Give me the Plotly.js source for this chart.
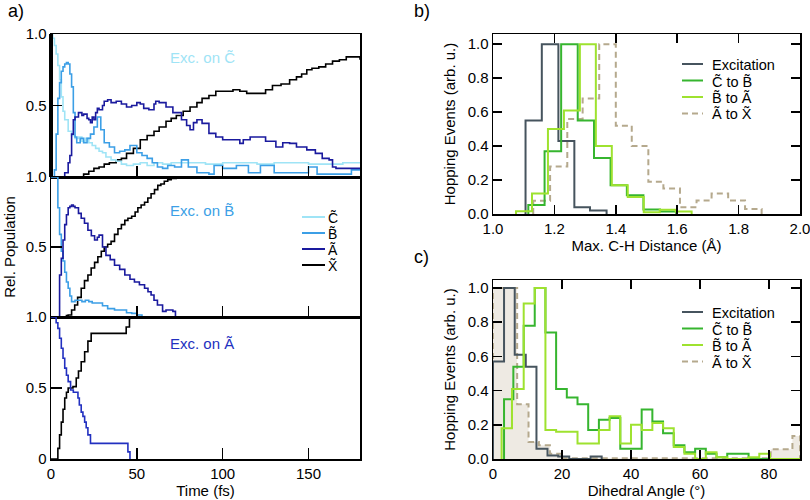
<!DOCTYPE html>
<html><head><meta charset="utf-8">
<script src="https://cdn.plot.ly/plotly-3.0.1.min.js"></script>
<style>html,body{margin:0;padding:0;background:#fff}#plot{width:810px;height:500px}</style>
</head><body><div id="plot"></div>
<script>
// ---------- Panel a: populations ----------
// Excitation on C
const tC_C = [0,1,2,3,4,5,6,7,8,10,12,14,16,18,20,22,24,26,28,30,32,35,38,41,44,48,52,56,60,65,70,80,90,100,110,120,130,140,150,160,170,180];
const popC_C = [1.0,0.97,0.92,0.86,0.78,0.68,0.56,0.46,0.40,0.32,0.29,0.27,0.28,0.25,0.27,0.24,0.22,0.20,0.18,0.17,0.14,0.12,0.11,0.09,0.08,0.09,0.10,0.08,0.10,0.09,0.10,0.10,0.09,0.10,0.10,0.09,0.10,0.10,0.09,0.09,0.10,0.10];
const tB_C = [0,1,2,3,4,5,6,7,8,9,10,11,12,13,14,15,17,19,21,23,25,27,29,31,34,37,40,43,46,50,53,56,59,62,65,68,72,76,80,85,88,92,95,100,105,108,115,120,122,130,140,150,155,160,170,175,180];
const popB_C = [0,0,0.05,0.30,0.55,0.66,0.74,0.77,0.79,0.80,0.79,0.72,0.63,0.45,0.28,0.24,0.27,0.24,0.27,0.30,0.35,0.42,0.33,0.24,0.21,0.17,0.18,0.19,0.22,0.17,0.15,0.13,0.10,0.07,0.06,0.08,0.07,0.12,0.07,0.03,0.03,0.02,0.08,0.06,0.06,0.08,0.03,0.03,0.08,0.03,0.03,0.07,0.02,0.02,0.02,0.05,0.05];
const tA_C = [0,7,8,10,11,12,13,14,16,18,19,21,22,23,24,25,26,27,28,30,31,33,35,38,41,44,47,50,52,54,57,60,61,63,67,71,76,79,81,83,85,88,92,96,100,105,110,112,116,122,125,131,135,139,143,149,154,158,162,164,166,180];
const popA_C = [0,0,0.03,0.10,0.15,0.30,0.40,0.42,0.45,0.43,0.44,0.41,0.40,0.38,0.42,0.40,0.45,0.48,0.47,0.50,0.53,0.54,0.52,0.53,0.51,0.49,0.50,0.52,0.51,0.48,0.47,0.51,0.53,0.52,0.49,0.45,0.40,0.36,0.33,0.38,0.40,0.375,0.305,0.28,0.26,0.26,0.235,0.26,0.28,0.28,0.25,0.21,0.24,0.235,0.21,0.19,0.165,0.13,0.12,0.07,0.06,0.06];
const tX_C = [0,17,19,22,25,28,31,34,38,41,44,48,52,56,60,63,67,70,73,77,81,85,88,92,96,100,106,110,114,121,125,129,134,139,143,146,149,152,156,160,164,168,172,176,180];
const popX_C = [0,0,0.02,0.04,0.06,0.07,0.09,0.10,0.12,0.13,0.165,0.20,0.26,0.29,0.32,0.35,0.39,0.41,0.43,0.46,0.49,0.52,0.55,0.57,0.60,0.60,0.61,0.60,0.585,0.585,0.61,0.64,0.65,0.68,0.70,0.72,0.75,0.76,0.77,0.79,0.81,0.82,0.84,0.84,0.82];
// Excitation on B
const tB_B = [0,3,4,5,6,7,8,9,10,11,12,14,16,18,20,22,24,27,30,33,37,41,44,47,50,52.5,53];
const popB_B = [1.0,1.0,0.78,0.59,0.47,0.40,0.32,0.25,0.205,0.15,0.11,0.12,0.12,0.11,0.12,0.11,0.10,0.10,0.08,0.06,0.05,0.05,0.03,0.026,0.014,0.014,0];
const tA_B = [0,4,5,6,7,8,9,10,11,12,13,14,16,17.6,19.5,21.5,23.5,25.4,27,28,30,32,34.5,37,40,43,46,48.6,51.5,54.5,56.5,58.3,60,62,65,67,71,72.5];
const popA_B = [0,0,0.30,0.42,0.55,0.66,0.73,0.78,0.79,0.80,0.79,0.78,0.74,0.705,0.67,0.62,0.58,0.55,0.57,0.585,0.50,0.44,0.41,0.37,0.34,0.30,0.27,0.25,0.23,0.205,0.18,0.157,0.12,0.086,0.04,0.05,0.04,0];
const tX_B = [0,7,9,10,12,13.8,15.5,17.6,19.5,21.5,23.4,25.4,27.3,29.3,31,33,35,37,39,41,43,44.8,47,49,50.6,52.5,54.5,56.4,58.3,60.3,62.2,64,66,68,70,73,180];
const popX_B = [0,0,0.01,0.014,0.05,0.086,0.14,0.205,0.26,0.30,0.35,0.39,0.43,0.47,0.50,0.52,0.54,0.59,0.63,0.66,0.69,0.705,0.72,0.75,0.78,0.80,0.82,0.85,0.88,0.91,0.94,0.95,0.97,0.98,0.99,1.0,1.0];
// Excitation on A
const tA_A = [0,2,3,4,5,6,7,8,9,10,11.4,13,15.7,16.5,17.6,18.6,19.6,20.5,21.5,23,42.8,44.8,46];
const popA_A = [1.0,1.0,0.96,0.92,0.85,0.78,0.71,0.64,0.59,0.545,0.486,0.47,0.43,0.38,0.33,0.30,0.26,0.22,0.17,0.11,0.11,0.05,0];
const tX_A = [0,3,4,5,6,7,8,9,10,12.8,14.7,16,17.6,19.6,21.5,23.4,42.8,43.8,45.7,46,180];
const popX_A = [0,0,0.075,0.17,0.26,0.35,0.43,0.47,0.50,0.51,0.57,0.62,0.685,0.755,0.83,0.885,0.885,0.93,0.99,1.0,1.0];

// ---------- Panel b: max C-H distance histograms ----------
const bExcEdges = [1.106,1.159,1.213,1.265,1.316,1.37];
const bExcH = [0.55,1.0,0.43,0.04,0.02];
const bCBEdges = [1.115,1.168,1.222,1.276,1.329,1.383,1.436,1.49,1.544,1.597];
const bCBH = [0.053,0.37,1.0,0.55,0.33,0.17,0.11,0.027,0.015];
const bBAEdges = [1.075,1.127,1.179,1.231,1.283,1.335,1.387,1.439,1.491,1.543,1.595,1.647];
const bBAH = [0.016,0.12,0.50,0.61,1.0,0.40,0.17,0.10,0.01,0.025,0.015];
const bAXEdges = [1.131,1.186,1.242,1.292,1.346,1.40,1.452,1.506,1.555,1.609,1.663,1.712,1.766,1.821,1.875];
const bAXH = [0.078,0.28,0.56,0.68,1.0,0.52,0.40,0.19,0.15,0.04,0.08,0.12,0.08,0.03];
const bTicksX = [1.0,1.2,1.4,1.6,1.8,2.0];
const histTicksY = [0,0.2,0.4,0.6,0.8,1.0];

// ---------- Panel c: dihedral angle histograms ----------
const cExcEdges = [0,3.2,6.3,9.5,12.6,15.8,18.9,22.1,25.2,28.3,31.5];
const cExcH = [0.57,1.0,0.61,0.54,0.06,0.02,0.015,0,0,0.015];
const cCBEdges = [3.2,5.9,8.9,12.1,15.2,18.3,21.4,24.5,27.6,30.7,33.8,36.9,40.0,43.1,46.2,49.3,52.4,55.5,58.6,61.7,64.8,67.9,71.0,74.1,89];
const cCBH = [0.35,0.54,0.78,1.0,0.74,0.41,0.36,0.32,0.17,0.23,0.24,0.06,0.06,0.29,0.22,0.15,0.08,0.04,0.06,0.03,0.01,0.03,0.03,0];
const cBAEdges = [2.5,5.5,8.9,12.1,15.2,18.3,21.4,24.5,27.6,30.7,33.8,36.9,40.0,43.1,46.2,49.3,52.4,55.5,58.6,61.7,64.8,67.9,71.0,74.1,77.2,80.3,89];
const cBAH = [0.18,0.41,0.91,1.0,0.17,0.16,0.16,0.09,0.09,0.17,0.25,0.09,0.20,0.17,0.21,0.18,0.07,0.03,0,0.04,0.01,0,0,0.01,0.03,0];
const cAXEdges = [0,3.5,7.0,10.3,13.3,16.5,19.8,80.5,86.8,89];
const cAXH = [1.0,1.0,0.32,0.10,0.08,0.03,0.004,0.057,0.135];
const cTicksX = [0,20,40,60,80];

// ---------- styling ----------
const colC = '#9fe4f6', colB = '#3c9fe6', colA = '#1a1a9e', colA2 = '#2230c0', colX = '#000000';
const colExc = '#46545e', colCB = '#36b52f', colBA = '#9ee22f', colAX = '#b5a98d', fillAX = '#eeeae3';
const FONT = 'Liberation Sans, Arial, sans-serif';

function histX(edges){ return [edges[0]].concat(edges); }
function histY(h){ return [0].concat(h).concat([0]); }

const traces = [];
function pop(t, p, color, xa, ya, w){
  traces.push({x:t, y:p, xaxis:xa, yaxis:ya, type:'scatter', mode:'lines', line:{color:color, width:w||1.6, shape:'hv'}, hoverinfo:'skip', showlegend:false});
}
pop(tX_C, popX_C, colX, 'x', 'y');
pop(tC_C, popC_C, colC, 'x', 'y');
pop(tB_C, popB_C, colB, 'x', 'y');
pop(tA_C, popA_C, colA, 'x', 'y');
pop(tX_B, popX_B, colX, 'x2', 'y2');
pop(tB_B, popB_B, colB, 'x2', 'y2');
pop(tA_B, popA_B, colA, 'x2', 'y2');
pop(tX_A, popX_A, colX, 'x3', 'y3');
pop(tA_A, popA_A, colA2, 'x3', 'y3');

function hist(edges, h, color, xa, ya, dash, fill){
  const tr = {x:histX(edges), y:histY(h), xaxis:xa, yaxis:ya, type:'scatter', mode:'lines',
    line:{color:color, width:2, shape:'hv', dash:dash||'solid'}, hoverinfo:'skip', showlegend:false};
  if (fill){ tr.fill='tozeroy'; tr.fillcolor=fill; }
  traces.push(tr);
}
hist(bAXEdges, bAXH, colAX, 'x4', 'y4', '6px,4px');
hist(bExcEdges, bExcH, colExc, 'x4', 'y4');
hist(bCBEdges, bCBH, colCB, 'x4', 'y4');
hist(bBAEdges, bBAH, colBA, 'x4', 'y4');
hist(cAXEdges, cAXH, colAX, 'x5', 'y5', '6px,4px', fillAX);
hist(cExcEdges, cExcH, colExc, 'x5', 'y5');
hist(cCBEdges, cCBH, colCB, 'x5', 'y5');
hist(cBAEdges, cBAH, colBA, 'x5', 'y5');

const W = 810, H = 500;
const px = v => v / W, py = v => 1 - v / H;
const domAx = [px(51), px(360)];
const domBx = [px(493), px(800)];

function axA_x(anchor, labels){
  return {domain:domAx, range:[0,180], anchor:anchor, tickvals:[0,50,100,150], ticktext:['0','50','100','150'],
    ticks:'inside', ticklen:11, tickwidth:1.5, tickcolor:'#000', showline:true, mirror:true, linewidth:1.5, linecolor:'#000',
    showgrid:false, zeroline:false, showticklabels:labels, tickfont:{size:15, color:'#000'}, ticklabeloverflow:'allow'};
}
function axA_y(anchor, dom, vals, txt){
  return {domain:dom, range:[0,1], anchor:anchor, tickvals:vals, ticktext:txt,
    ticks:'inside', ticklen:11, tickwidth:1.5, tickcolor:'#000', showline:true, mirror:true, linewidth:1.5, linecolor:'#000',
    showgrid:false, zeroline:false, tickfont:{size:15, color:'#000'}, ticklabeloverflow:'allow'};
}
function axH(anchor, dom, range, vals, txt){
  return {domain:dom, range:range, anchor:anchor, tickvals:vals, ticktext:txt,
    ticks:'inside', ticklen:9, tickwidth:1.5, tickcolor:'#000', showline:true, mirror:'allticks', linewidth:1.5, linecolor:'#000',
    showgrid:false, zeroline:false, tickfont:{size:15, color:'#000'}, ticklabeloverflow:'allow'};
}
const f1 = v => v.toFixed(1), f0 = v => String(v);

const layout = {
  width:W, height:H, margin:{l:0,r:0,t:0,b:0}, paper_bgcolor:'#fff', plot_bgcolor:'rgba(0,0,0,0)',
  font:{family:FONT, size:15, color:'#000'}, showlegend:false,
  xaxis: axA_x('y', false),
  xaxis2: axA_x('y2', false),
  xaxis3: Object.assign(axA_x('y3', true), {title:{text:'Time (fs)', font:{size:15}, standoff:2}}),
  yaxis: axA_y('x', [py(177), py(34)], [0.5,1], ['0.5','1.0']),
  yaxis2: Object.assign(axA_y('x2', [py(317), py(177)], [0.5,1], ['0.5','1.0']), {title:{text:'Rel. Population', font:{size:15}, standoff:6}}),
  yaxis3: axA_y('x3', [py(459), py(317)], [0,0.5,1], ['0','0.5','1.0']),
  xaxis4: Object.assign(axH('y4', domBx, [1,2], bTicksX, bTicksX.map(f1)), {title:{text:'Max. C-H Distance (Å)', font:{size:15}, standoff:4}}),
  yaxis4: Object.assign(axH('x4', [py(214), py(34)], [0,1.06], histTicksY, histTicksY.map(f1)), {title:{text:'Hopping Events (arb. u.)', font:{size:15}, standoff:8}}),
  xaxis5: Object.assign(axH('y5', domBx, [0,89], cTicksX, cTicksX.map(f0)), {title:{text:'Dihedral Angle (°)', font:{size:15}, standoff:4}}),
  yaxis5: Object.assign(axH('x5', [py(459), py(280)], [0,1.047], histTicksY, histTicksY.map(f1)), {title:{text:'Hopping Events (arb. u.)', font:{size:15}, standoff:8}}),
  shapes: [],
  annotations: []
};

// thick left edge of the top population panel
layout.shapes.push({type:'line', xref:'x domain', yref:'y domain', x0:0, x1:0, y0:0, y1:1, line:{color:'#000', width:4}});

// panel labels
[['a)',6,11],['b)',412,11],['c)',412,257]].forEach(([t,x,y]) => layout.annotations.push({text:t, xref:'paper', yref:'paper', x:px(x), y:py(y), xanchor:'left', yanchor:'middle', showarrow:false, font:{size:18, color:'#000'}}));

// in-panel labels
[['Exc. on C\u0303', 58, colC],['Exc. on B\u0303', 211, colB],['Exc. on A\u0303', 343, colA2]].forEach(([t,y,c]) => layout.annotations.push({text:t, xref:'paper', yref:'paper', x:px(202), y:py(y), xanchor:'center', yanchor:'middle', showarrow:false, font:{size:15, color:c}}));

// legends
function legend(items, x0, x1, xt, rows, fs){
  items.forEach((it, i) => {
    layout.shapes.push({type:'line', xref:'paper', yref:'paper', x0:px(x0), x1:px(x1), y0:py(rows[i]), y1:py(rows[i]), line:{color:it[1], width:2, dash:it[2]||'solid'}});
    layout.annotations.push({text:it[0], xref:'paper', yref:'paper', x:px(xt), y:py(rows[i]+1), xanchor:'left', yanchor:'middle', showarrow:false, font:{size:fs, color:'#000'}});
  });
}
legend([['C\u0303', colC],['B\u0303', colB],['A\u0303', colA],['X\u0303', colX]], 302, 325, 326, [217,233,249,265], 14);
const histItems = [['Excitation', colExc],['C\u0303 to B\u0303', colCB],['B\u0303 to A\u0303', colBA],['A\u0303 to X\u0303', colAX, '6px,4px']];
legend(histItems, 682, 703, 710, [64,80.5,97,113.5], 14.5);
legend(histItems, 682, 703, 710, [312,328.5,345,361.5], 14.5);

Plotly.newPlot('plot', traces, layout, {staticPlot:true});
</script></body></html>
